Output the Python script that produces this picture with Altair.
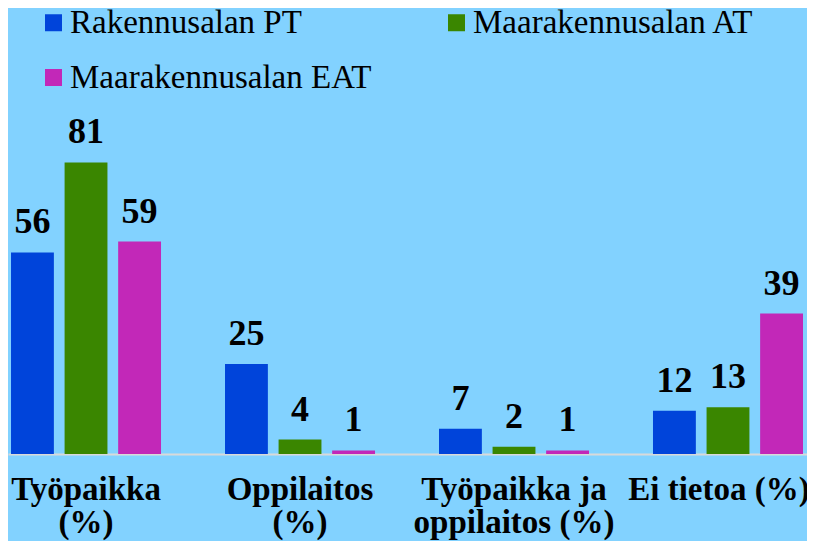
import altair as alt
import pandas as pd

# --- data ---
categories = ["Työpaikka|(%)", "Oppilaitos|(%)", "Työpaikka ja|oppilaitos (%)", "Ei tietoa (%)"]
series = ["Rakennusalan PT", "Maarakennusalan AT", "Maarakennusalan EAT"]
pt_values = [56, 25, 7, 12]
at_values = [81, 4, 2, 13]
eat_values = [59, 1, 1, 39]
colors = ["#0044DA", "#3A8600", "#C228B8"]

rows = []
for s, vals in zip(series, [pt_values, at_values, eat_values]):
    for c, v in zip(categories, vals):
        rows.append({"category": c, "series": s, "value": v})
df = pd.DataFrame(rows)

BG = "#82D2FF"
SERIF = "Liberation Serif"

x_enc = alt.X(
    "category:N",
    sort=categories,
    scale=alt.Scale(paddingInner=0.299, paddingOuter=0.0164, align=0.43),
    axis=alt.Axis(
        title=None,
        labelExpr="split(datum.label, '|')",
        labelFont=SERIF,
        labelFontWeight="bold",
        labelFontSize=33,
        labelColor="#000000",
        labelAngle=0,
        labelPadding=19,
        labelLineHeight=33,
        labelLimit=0,
        labelOverlap=False,
        labelOffset={"condition": {"test": "datum.value === 'Ei tietoa (%)'", "value": -9}, "value": 0},
        ticks=False,
        domainColor="#D9D9D9",
        domainWidth=2,
        grid=False,
    ),
)
xoff = alt.XOffset("series:N", sort=series, scale=alt.Scale(paddingInner=0.2, paddingOuter=0))
y_enc = alt.Y("value:Q", scale=alt.Scale(domain=[0, 100], nice=False, zero=True), axis=None)

bars = alt.Chart(df).mark_bar().encode(
    x=x_enc,
    xOffset=xoff,
    y=y_enc,
    color=alt.Color(
        "series:N",
        sort=series,
        scale=alt.Scale(domain=series, range=colors),
        legend=alt.Legend(
            title=None,
            orient="none",
            direction="horizontal",
            legendX=29,
            legendY=-88,
            columns=2,
            columnPadding=68,
            rowPadding=21,
            symbolType="square",
            symbolSize=289,
            symbolStrokeWidth=0,
            symbolOpacity=1,
            labelFont=SERIF,
            labelFontSize=33,
            labelColor="#000000",
            labelOffset=0,
            labelLimit=0,
            padding=0,
        ),
    ),
)

labels = alt.Chart(df).mark_text(
    font=SERIF, fontWeight="bold", fontSize=36, color="#000000",
    baseline="alphabetic", dy=-19,
).encode(
    x=alt.X("category:N", sort=categories),
    xOffset=alt.XOffset("series:N", sort=series),
    y="value:Q",
    text="value:Q",
)

chart = (
    alt.layer(bars, labels)
    .properties(
        width=799,
        height=360,
        background=BG,
        padding={"left": 0, "top": 86, "right": 0, "bottom": 87},
        autosize=alt.AutoSizeParams(type="none"),
    )
    .configure_view(stroke=None)
)

chart.save("out.html", embed_options={"renderer": "svg", "actions": False})
